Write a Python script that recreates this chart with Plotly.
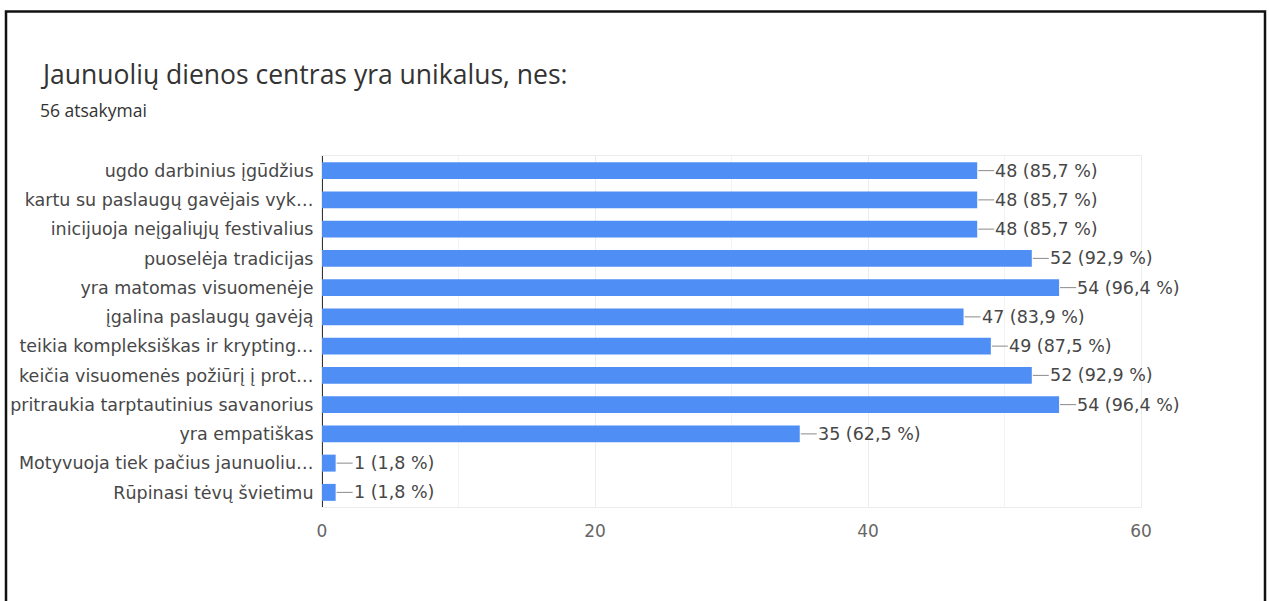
import plotly.graph_objects as go

categories = [
    "ugdo darbinius įgūdžius",
    "kartu su paslaugų gavėjais vyk…",
    "inicijuoja neįgaliųjų festivalius",
    "puoselėja tradicijas",
    "yra matomas visuomenėje",
    "įgalina paslaugų gavėją",
    "teikia kompleksiškas ir krypting…",
    "keičia visuomenės požiūrį į prot…",
    "pritraukia tarptautinius savanorius",
    "yra empatiškas",
    "Motyvuoja tiek pačius jaunuoliu…",
    "Rūpinasi tėvų švietimu",
]
counts = [48, 48, 48, 52, 54, 47, 49, 52, 54, 35, 1, 1]
percents = ["85,7", "85,7", "85,7", "92,9", "96,4", "83,9", "87,5", "92,9", "96,4", "62,5", "1,8", "1,8"]
x_ticks = [0, 20, 40, 60]

W, H = 1269, 601
ML, MT = 322, 156
pw, ph = 819, 351
MR = W - ML - pw
MB = H - MT - ph

BAR = "#4f8ef5"
LABEL_FONT = dict(family="DejaVu Sans", size=17.5, color="#474747")

fig = go.Figure()
fig.add_trace(go.Bar(
    x=counts, y=categories, orientation="h",
    marker=dict(color=BAR, line=dict(width=0)),
    hoverinfo="skip",
))

for c, cnt, pct in zip(categories, counts, percents):
    fig.add_annotation(
        x=cnt, y=c, xref="x", yref="y",
        text=f"{cnt} ({pct} %)",
        showarrow=True, arrowhead=0, arrowwidth=1, arrowcolor="#8a8a8a",
        ax=17, ay=0, xanchor="left", yanchor="middle",
        standoff=1, borderpad=0,
        font=LABEL_FONT,
    )


def px2x(p):
    return (p - ML) / pw


def py2y(p):
    return (H - MB - p) / ph


# title + subtitle
fig.add_annotation(
    text="Jaunuolių dienos centras yra unikalus, nes:",
    xref="paper", yref="paper",
    x=px2x(38), y=py2y(74),
    xanchor="left", yanchor="middle", showarrow=False,
    font=dict(family="Open Sans", size=26.5, color="#333333"),
)
fig.add_annotation(
    text="56 atsakymai",
    xref="paper", yref="paper",
    x=px2x(38), y=py2y(110),
    xanchor="left", yanchor="middle", showarrow=False,
    font=dict(family="Open Sans", size=17.5, color="#333333"),
)

# outer black frame (left, top, right)
fig.add_shape(
    type="path", xref="paper", yref="paper",
    path=f"M {px2x(6)} {py2y(640)} L {px2x(6)} {py2y(11.5)} L {px2x(1265)} {py2y(11.5)} L {px2x(1265)} {py2y(640)}",
    line=dict(color="#111111", width=2.5),
)

fig.update_layout(
    width=W, height=H,
    margin=dict(l=ML, r=MR, t=MT, b=MB, autoexpand=False),
    paper_bgcolor="white", plot_bgcolor="white",
    bargap=0.42,
    showlegend=False,
    xaxis=dict(
        range=[0, 60], tickvals=x_ticks, ticktext=[str(v) for v in x_ticks],
        showgrid=True, gridcolor="#ececec", gridwidth=1,
        minor=dict(dtick=10, showgrid=True, gridcolor="#f3f3f3", gridwidth=1),
        zeroline=True, zerolinecolor="#333333", zerolinewidth=1.5,
        showline=True, mirror=True, linecolor="#ececec", linewidth=1,
        ticks="", ticklabelstandoff=9,
        tickfont=dict(family="DejaVu Sans", size=17, color="#666666"),
        fixedrange=True, automargin=False,
    ),
    yaxis=dict(
        autorange="reversed", showgrid=False, zeroline=False,
        showline=True, mirror=True, linecolor="#ececec", linewidth=1,
        ticks="", ticklabelstandoff=4,
        tickfont=LABEL_FONT,
        fixedrange=True, automargin=False,
    ),
)

fig.write_html(
    "out.html",
    config={"displayModeBar": False},
    post_script="document.body.style.margin='0';document.body.style.overflow='hidden';",
)
